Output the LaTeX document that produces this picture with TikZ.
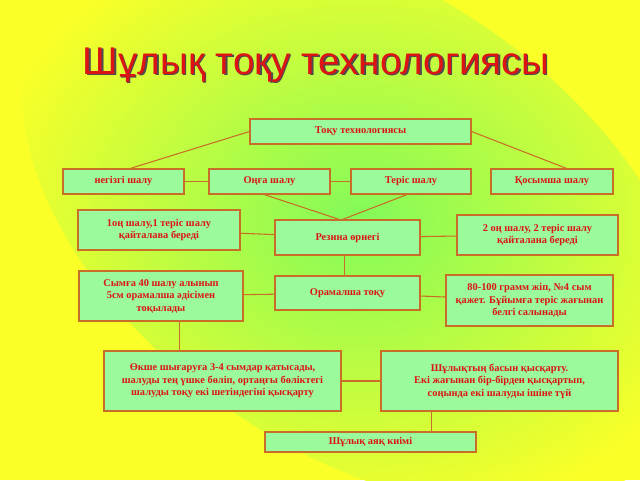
\documentclass[tikz,border=0pt]{standalone}
\usepackage{fontspec}
\setmainfont{Liberation Serif}
\newfontfamily\titlefont{Liberation Sans}
\definecolor{boxfill}{RGB}{155,250,155}
\definecolor{boxline}{RGB}{200,110,40}
\definecolor{txtred}{RGB}{220,20,20}
\definecolor{bgyellow}{RGB}{250,255,40}
\definecolor{bggreen}{RGB}{130,250,90}
\begin{document}
\begin{tikzpicture}[x=0.75pt,y=-0.75pt]
	\tikzset{box/.style={draw=boxline,fill=boxfill,line width=0.8pt,inner sep=0pt,
			text=txtred,font=\bfseries\fontsize{7.8}{9.4}\selectfont,align=center},
		sz/.style 2 args={minimum width=#1*0.75pt,minimum height=#2*0.75pt},
		link/.style={draw=boxline,line width=0.8pt}}
	\fill[bgyellow] (0,0) rectangle (640,480);
	\begin{scope}
		\clip (0,0) rectangle (640,480);
		\shade[inner color=bggreen,outer color=bgyellow,rotate around={-35:(360,220)}] (360,220) ellipse [x radius=380,y radius=230];
	\end{scope}
	\useasboundingbox (0,0) rectangle (640,480);
	\node[text=black!70,font=\titlefont\fontsize{29}{33}\selectfont] at (317.5,66.5) {Шұлық тоқу технологиясы};
	\node[text=txtred,font=\titlefont\fontsize{29}{33}\selectfont] (title) at (316,65) {Шұлық тоқу технологиясы};
	\node[box,sz={221}{25}] (tech) at (360.5,131.5) {Тоқу технологиясы};
	\node[box,sz={121}{25}] (neg) at (123.5,181.5) {негізгі шалу};
	\node[box,sz={121}{25}] (onga) at (269.5,181.5) {Оңға шалу};
	\node[box,sz={120}{25}] (teris) at (411,181.5) {Теріс шалу};
	\node[box,sz={122}{25}] (qos) at (552,181.5) {Қосымша шалу};
	\node[box,sz={162}{40}] (one) at (159,230) {1оң шалу,1 теріс шалу\\ қайталава береді};
	\node[box,sz={145}{35}] (rez) at (347.5,237.5) {Резина өрнегі};
	\node[box,sz={161}{40}] (two) at (537.5,235) {2 оң шалу, 2 теріс шалу\\ қайталана береді};
	\node[box,sz={164}{50}] (sym) at (161,296) {Сымға 40 шалу алынып\\ 5см орамалша әдісімен\\ тоқылады};
	\node[box,sz={145}{34}] (oram) at (347.5,293) {Орамалша тоқу};
	\node[box,sz={167}{51}] (gram) at (529.5,300.5) {80-100 грамм жіп, №4 сым\\ қажет. Бұйымға теріс жағынан\\ белгі салынады};
	\node[box,sz={237}{60}] (okshe) at (222.5,381) {Өкше шығаруға 3-4 сымдар қатысады,\\ шалуды тең үшке бөліп, ортаңғы бөліктегі\\ шалуды тоқу екі шетіндегіні қысқарту};
	\node[box,sz={237}{60}] (bas) at (499.5,381) {Шұлықтың басын қысқарту.\\ Екі жағынан бір-бірден қысқартып,\\ соңында екі шалуды ішіне түй};
	\node[box,sz={211}{20}] (ayaq) at (370.5,442) {Шұлық аяқ киімі};
	\coordinate (v) at (341,220);
	\draw[link] (tech.west) -- ([xshift=5pt]neg.north);
	\draw[link] (tech.east) -- ([xshift=11pt]qos.north);
	\draw[link] (neg) -- (onga);
	\draw[link] (onga) -- (teris);
	\draw[link] ([xshift=-4pt]onga.south) -- (v) -- ([xshift=-3pt]teris.south);
	\draw[link] (one) -- (rez);
	\draw[link] (rez) -- (two);
	\draw[link] ([xshift=-2pt]rez.south) -- ([xshift=-2pt]oram.north);
	\draw[link] (sym) -- (oram);
	\draw[link] (oram) -- (gram);
	\draw[link] ([xshift=14pt]sym.south) -- ([xshift=14pt]sym.south |- okshe.north);
	\draw[link] (okshe) -- (bas);
	\draw[link] ([xshift=-51pt]bas.south) -- ([xshift=-51pt]bas.south |- ayaq.north);
\end{tikzpicture}
\end{document}
